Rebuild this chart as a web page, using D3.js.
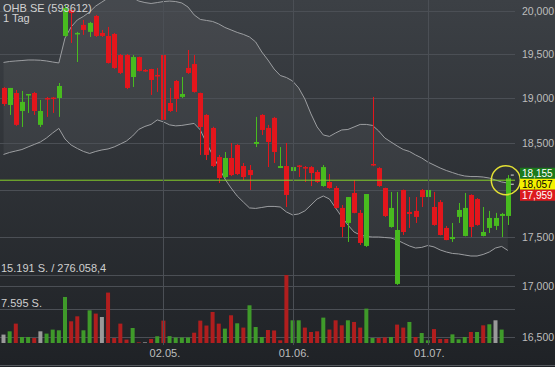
<!DOCTYPE html>
<html><head><meta charset="utf-8">
<script src="https://cdn.jsdelivr.net/npm/d3@7"></script>
<style>
body{margin:0;background:#222529;}
svg{display:block;font-family:"Liberation Sans",Arial,sans-serif;}
</style>
</head><body>
<svg id="c" width="555" height="367"></svg>
<script>
// ---------- DATA ----------
const title = "OHB SE (593612)";
const period = "1 Tag";
const open = [19.113,18.922,19.056,18.855,19.034,19.056,18.701,19.000,19.005,19.000,
19.709,20.013,19.732,19.838,19.756,19.943,19.744,19.709,19.732,19.488,
19.488,19.237,19.465,19.317,19.328,19.260,19.488,18.944,19.192,19.012,
19.340,19.385,19.056,18.811,18.667,18.350,18.134,18.339,18.480,18.252,
18.209,18.491,18.811,18.667,18.778,18.231,18.252,18.198,18.258,18.241,
18.241,18.188,18.038,18.081,18.017,17.806,17.649,17.964,17.754,17.411,
18.274,18.230,18.017,17.607,17.025,17.996,17.764,17.775,17.996,17.921,
17.816,17.868,17.597,17.482,17.712,17.514,17.943,17.900,17.514,17.597,
17.618,17.722,17.722];
const high = [19.124,19.113,19.090,19.079,19.045,19.068,18.978,19.012,19.012,19.169,
20.072,20.025,19.756,19.896,19.873,19.955,19.779,19.814,19.744,19.500,
19.500,19.488,19.470,19.328,19.330,19.340,19.511,19.113,19.203,19.237,
19.546,19.488,19.060,18.820,18.680,18.372,18.404,18.502,18.490,18.285,
18.263,18.789,18.820,18.701,18.789,18.458,18.502,18.252,18.263,18.252,
18.252,18.209,18.263,18.166,18.038,17.837,17.921,18.102,17.785,17.953,
19.012,18.240,18.020,17.975,17.975,18.000,17.921,17.921,18.006,18.006,
17.975,17.889,17.618,17.649,17.858,17.964,17.950,17.910,17.816,17.775,
17.754,17.754,18.155];
const low = [18.911,18.811,18.690,18.678,18.833,18.811,18.678,18.789,18.833,18.789,
19.700,19.627,19.408,19.721,19.697,19.697,19.697,19.390,19.330,19.270,
19.100,19.124,19.300,19.294,19.034,19.068,18.745,18.844,18.844,19.000,
19.272,19.060,18.372,18.317,18.240,18.070,18.120,18.145,18.155,18.102,
17.996,18.458,18.590,18.241,18.285,18.230,17.816,17.996,18.134,18.081,
18.038,18.070,18.030,18.010,17.800,17.503,17.452,17.750,17.421,17.401,
18.250,18.030,17.711,17.600,17.015,17.524,17.597,17.649,17.816,17.806,
17.620,17.520,17.470,17.452,17.649,17.510,17.503,17.620,17.510,17.545,
17.576,17.503,17.628];
const close = [18.933,19.113,18.701,18.956,19.045,18.855,18.855,18.989,18.995,19.135,
20.037,19.978,19.744,19.779,19.861,19.709,19.709,19.397,19.340,19.283,
19.113,19.465,19.306,19.306,19.203,19.249,18.756,18.855,18.989,19.045,
19.283,19.068,18.678,18.372,18.252,18.123,18.339,18.155,18.166,18.134,
18.155,18.513,18.645,18.513,18.404,18.252,17.943,18.241,18.247,18.230,
18.177,18.081,18.241,18.017,17.806,17.607,17.921,17.754,17.442,17.953,
18.263,18.038,17.722,17.806,17.576,17.555,17.743,17.712,17.921,17.996,
17.628,17.524,17.472,17.503,17.785,17.806,17.607,17.628,17.555,17.701,
17.701,17.743,18.120];
const volume = [1880,2610,4330,1340,1340,1120,2610,2100,2990,2840,
10280,4850,5960,2840,7300,6570,5810,11260,1120,4330,
760,3350,150,150,900,1500,5000,1530,1230,1230,
1230,2300,5000,3900,6930,4330,3210,6190,4400,3440,
8420,3570,1340,2900,2800,600,15191,5070,5070,3440,
2460,2610,5670,3000,5070,3950,5070,4700,3440,7680,
1120,1120,1250,1340,4110,3440,4700,1340,2230,600,
3110,900,900,1930,820,1340,2460,2460,3950,4180,
5070,3000,null];
const upperBand = [19.403,19.414,19.420,19.425,19.431,19.431,19.428,19.420,19.408,19.397,
19.685,19.814,19.896,19.937,19.990,20.060,20.107,20.155,20.178,20.190,
20.184,20.160,20.119,20.101,20.090,20.101,20.113,20.119,20.113,20.096,
20.048,19.955,19.902,19.890,19.878,19.849,19.808,19.779,19.750,19.727,
19.697,19.639,19.523,19.431,19.328,19.254,19.231,19.192,19.113,18.989,
18.822,18.678,18.590,18.574,18.612,18.645,18.650,18.678,18.706,18.706,
18.695,18.634,18.557,18.513,18.470,18.431,18.410,18.372,18.339,18.295,
18.263,18.231,18.204,18.182,18.160,18.145,18.139,18.139,18.134,18.123,
18.102,18.081,18.070];
const lowerBand = [18.377,18.399,18.415,18.431,18.459,18.486,18.513,18.557,18.612,18.662,
18.546,18.480,18.442,18.410,18.388,18.410,18.426,18.437,18.459,18.491,
18.524,18.579,18.651,18.684,18.706,18.756,18.734,18.701,18.690,18.695,
18.706,18.717,18.645,18.502,18.372,18.241,18.113,18.017,17.932,17.868,
17.806,17.801,17.811,17.822,17.822,17.816,17.764,17.733,17.743,17.775,
17.837,17.900,17.932,17.900,17.806,17.712,17.628,17.555,17.524,17.508,
17.503,17.503,17.498,17.493,17.472,17.441,17.411,17.390,17.396,17.416,
17.401,17.370,17.349,17.334,17.329,17.318,17.308,17.308,17.324,17.349,
17.390,17.406,17.365];
const xTickIndex = [26,47,69];
const xTickLabels = ["02.05.","01.06.","01.07."];
const priceTicks = [16.5,17,17.5,18,18.5,19,19.5,20];
const priceLabelTicks = [16.5,17,17.5,18.5,19,19.5,20];
const volTicks = [7595,15191];
const turnover = 276058.4;
const markLine = 18.10;
const quoteValues = [18.155,18.057,17.959];

// ---------- SETUP ----------
const W=555,H=367,plotR=515,plotB=345;
const loc = d3.formatLocale({decimal:",",thousands:".",grouping:[3],currency:["","€"]});
const fmtPrice = loc.format(",.3f"), fmtVol = loc.format(",d"), fmtTurn = loc.format(",.1f");
const n = close.length;
const x = d3.scaleLinear().domain([0,n-1]).range([3.5,507.8]);
const y = d3.scaleLog().domain([16.5,20]).range([337,11.1]);
const yv = d3.scaleLinear().domain([0,15191]).range([343,275]);

const svg = d3.select("#c");
const defs = svg.append("defs");
const g1 = defs.append("linearGradient").attr("id","bg").attr("x1",0).attr("y1",0).attr("x2",0).attr("y2",1);
g1.append("stop").attr("offset","0%").attr("stop-color","#3c4045");
g1.append("stop").attr("offset","100%").attr("stop-color","#1f2226");
defs.append("clipPath").attr("id","clip").append("rect").attr("x",0).attr("y",0).attr("width",plotR).attr("height",plotB);
svg.append("rect").attr("width",W).attr("height",H).attr("fill","url(#bg)");

const plot = svg.append("g").attr("clip-path","url(#clip)");
const idx = d3.range(n);

// band fill
plot.append("path").datum(idx)
  .attr("d", d3.area().x(i=>x(i)).y0(i=>y(lowerBand[i])).y1(i=>y(upperBand[i])))
  .attr("fill","rgba(255,255,255,0.05)");

// grid
plot.selectAll(".hg").data(priceTicks).join("line")
  .attr("x1",0).attr("x2",plotR).attr("y1",d=>Math.round(y(d))+0.5).attr("y2",d=>Math.round(y(d))+0.5)
  .attr("stroke","#4b4f55").attr("stroke-width",1);
plot.selectAll(".vg").data(volTicks).join("line")
  .attr("x1",0).attr("x2",plotR).attr("y1",d=>Math.round(yv(d))+0.5).attr("y2",d=>Math.round(yv(d))+0.5)
  .attr("stroke","#4b4f55").attr("stroke-width",1);
svg.selectAll(".xg").data(xTickIndex).join("line")
  .attr("x1",d=>Math.round(x(d))+0.5).attr("x2",d=>Math.round(x(d))+0.5).attr("y1",0).attr("y2",plotB)
  .attr("stroke","#4b4f55").attr("stroke-width",1);
svg.append("line").attr("x1",0).attr("x2",W).attr("y1",365.5).attr("y2",365.5).attr("stroke","#55595e");

// band lines
const bandLine = arr => d3.line().x(i=>x(i)).y(i=>y(arr[i]));
plot.append("path").datum(idx).attr("d",bandLine(upperBand)).attr("fill","none").attr("stroke","#9c9ea1").attr("stroke-width",1);
plot.append("path").datum(idx).attr("d",bandLine(lowerBand)).attr("fill","none").attr("stroke","#9c9ea1").attr("stroke-width",1);

// volume
const volColor = i => {
  if (i===0 || close[i]===close[i-1]) return "#9a9a9a";
  return close[i]>close[i-1] ? "#3f9a2a" : "#b01e1e";
};
plot.selectAll(".vol").data(idx.filter(i=>volume[i]!=null)).join("rect")
  .attr("x",i=>x(i)-2).attr("width",4)
  .attr("y",i=>yv(volume[i])).attr("height",i=>yv(0)-yv(volume[i]))
  .attr("fill",volColor);

// candles
const up = i => close[i]>=open[i];
const cRed="#e3161c", cGreen="#48bb1f";
plot.selectAll(".wick").data(idx).join("line")
  .attr("x1",i=>Math.round(x(i))+0.5).attr("x2",i=>Math.round(x(i))+0.5)
  .attr("y1",i=>y(high[i])).attr("y2",i=>y(low[i]))
  .attr("stroke",i=>up(i)?cGreen:cRed).attr("stroke-width",1);
plot.selectAll(".body").data(idx).join("rect")
  .attr("x",i=>Math.round(x(i))-2).attr("width",5)
  .attr("y",i=>y(Math.max(open[i],close[i])))
  .attr("height",i=>Math.max(1.5,Math.abs(y(open[i])-y(close[i]))))
  .attr("fill",i=>up(i)?cGreen:cRed);

// mark line
plot.append("line").attr("x1",0).attr("x2",plotR).attr("y1",y(markLine)).attr("y2",y(markLine))
  .attr("stroke","#86cf2a").attr("stroke-width",1);

// quote ticks next to last candle
svg.selectAll(".qt").data(quoteValues.slice(0,2)).join("line")
  .attr("x1",x(n-1)+3).attr("x2",x(n-1)+6).attr("y1",d=>y(d)).attr("y2",d=>y(d))
  .attr("stroke","#dddddd").attr("stroke-width",1);

// highlight circle
svg.append("circle").attr("cx",x(n-1)-2).attr("cy",y(markLine)).attr("r",14.5)
  .attr("fill","none").attr("stroke","#e3e034").attr("stroke-width",1.5);

// y axis
const ya = svg.append("g").attr("transform","translate(522,0)")
  .call(d3.axisRight(y).tickValues(priceLabelTicks).tickFormat(fmtPrice).tickSize(0).tickPadding(0));
ya.select(".domain").remove();
ya.selectAll("text").attr("fill","#bdbdbd").attr("font-size","10.5px").attr("font-family","Liberation Sans, Arial, sans-serif");

// x axis
const xa = svg.append("g").attr("transform","translate(1,349)")
  .call(d3.axisBottom(x).tickValues(xTickIndex).tickFormat((d,k)=>xTickLabels[k]).tickSize(0).tickPadding(0));
xa.select(".domain").remove();
xa.selectAll("text").attr("fill","#bdbdbd").attr("font-size","11px").attr("font-family","Liberation Sans, Arial, sans-serif");

// quote boxes (stacked so they do not collide)
const qFill=["#1b7a1b","#f4f000","#dc1a1e"], qText=["#ffffff","#000000","#ffffff"];
const mid = y(quoteValues[1]);
const qPos = quoteValues.map((d,k)=>{
  const p=y(d);
  if(k===0) return Math.min(p, mid-11);
  if(k===2) return Math.max(p, mid+11);
  return p;
});
const qg = svg.selectAll(".qb").data(quoteValues).join("g");
qg.append("rect").attr("x",520).attr("width",35).attr("y",(d,k)=>qPos[k]-5.5).attr("height",11)
  .attr("fill",(d,k)=>qFill[k]);
qg.append("text").attr("x",522).attr("y",(d,k)=>qPos[k]).attr("dy","0.35em")
  .attr("font-size","10px").attr("fill",(d,k)=>qText[k]).text(d=>fmtPrice(d));

// titles
svg.append("text").attr("x",3).attr("y",11.5).attr("font-size","11px").attr("fill","#d2d2d2").text(title);
svg.append("text").attr("x",3).attr("y",22).attr("font-size","11px").attr("fill","#d2d2d2").text(period);
svg.append("text").attr("x",1).attr("y",yv(volTicks[1])-3).attr("font-size","11px").attr("fill","#cfcfcf")
  .text(fmtVol(volTicks[1])+" S. / "+fmtTurn(turnover));
svg.append("text").attr("x",1).attr("y",yv(volTicks[0])-2).attr("font-size","11px").attr("fill","#cfcfcf")
  .text(fmtVol(volTicks[0])+" S.");
</script>
</body></html>
